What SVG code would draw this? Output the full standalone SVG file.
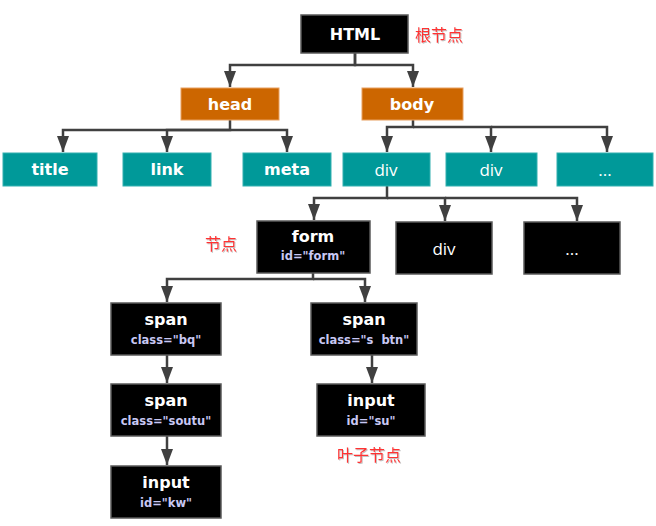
<svg xmlns="http://www.w3.org/2000/svg" width="656" height="526" viewBox="0 0 656 526">
<style>
.blk{fill:#000;stroke:#5a5a5a;stroke-width:1.5}
.org{fill:#cc6600;stroke:#e8a060;stroke-width:1}
.tea{fill:#009999;stroke:#33b0b0;stroke-width:1}
.t{font-family:"DejaVu Sans","Liberation Sans",sans-serif;font-weight:bold;font-size:16px;fill:#fff;text-anchor:middle}
.s{font-family:"Open Sans","DejaVu Sans",sans-serif;font-size:17px;fill:#fff;text-anchor:middle}
.sub{font-family:"DejaVu Sans","Liberation Sans",sans-serif;font-weight:bold;font-size:11.5px;fill:#c8c8f4;text-anchor:middle}
.cn{font-family:"Noto Sans CJK SC",sans-serif;font-size:16px;fill:#ff3030;filter:url(#sh)}
.c{fill:none;stroke:#404040;stroke-width:2.5;marker-end:url(#ah)}
</style>
<defs>
<marker id="ah" markerUnits="userSpaceOnUse" viewBox="0 0 16 12" markerWidth="16" markerHeight="12" refX="16" refY="6" orient="auto">
<path d="M0,0 L16,6 L0,12 z" fill="#404040"/>
</marker>
<filter id="sh" x="-10%" y="-10%" width="130%" height="140%">
<feDropShadow dx="1" dy="1" stdDeviation="0.6" flood-color="#999" flood-opacity="0.6"/>
</filter>
</defs>
<rect width="656" height="526" fill="#fff"/>
<g id="connectors">
<path class="c" d="M355,53 V65 H230 V87"/>
<path class="c" d="M355,53 V65 H413 V87"/>
<path class="c" d="M230,120 V130 H63 V152"/>
<path class="c" d="M230,130 H167 V152"/>
<path class="c" d="M230,130 H287 V152"/>
<path class="c" d="M413,120 V127 H387 V152"/>
<path class="c" d="M413,127 H491 V152"/>
<path class="c" d="M491,127 H607 V152"/>
<path class="c" d="M387,186 V198 H314 V220"/>
<path class="c" d="M387,198 H445 V221"/>
<path class="c" d="M445,198 H577 V221"/>
<path class="c" d="M313,273 V279 H167 V302"/>
<path class="c" d="M313,279 H365 V302"/>
<path class="c" d="M167,355 V383"/>
<path class="c" d="M167,436 V465"/>
<path class="c" d="M372,355 V383"/>
</g>
<g id="html"><rect class="blk" x="301" y="15" width="107" height="38"/><text class="t" x="355" y="40">HTML</text></g>
<text class="cn" x="415" y="41">根节点</text>
<g id="head"><rect class="org" x="181" y="88" width="98" height="32"/><text class="t" x="230" y="110">head</text></g>
<g id="body"><rect class="org" x="362" y="88" width="101" height="32"/><text class="t" x="412" y="110">body</text></g>
<g id="title"><rect class="tea" x="3" y="153" width="94" height="33"/><text class="t" x="50" y="175">title</text></g>
<g id="link"><rect class="tea" x="123" y="153" width="88" height="33"/><text class="t" x="167" y="175">link</text></g>
<g id="meta"><rect class="tea" x="243" y="153" width="88" height="33"/><text class="t" x="287" y="175">meta</text></g>
<g id="div1"><rect class="tea" x="343" y="153" width="87" height="33"/><text class="s" x="386" y="176">div</text></g>
<g id="div2"><rect class="tea" x="446" y="153" width="91" height="33"/><text class="s" x="491" y="176">div</text></g>
<g id="more1"><rect class="tea" x="557" y="153" width="96" height="33"/><text class="s" x="605" y="176">...</text></g>
<g id="form"><rect class="blk" x="257" y="221" width="113" height="52"/><text class="t" x="313" y="242">form</text><text class="sub" x="313" y="260">id="form"</text></g>
<text class="cn" x="205" y="250">节点</text>
<g id="div3"><rect class="blk" x="396" y="222" width="96" height="52"/><text class="s" x="444" y="255">div</text></g>
<g id="more2"><rect class="blk" x="524" y="222" width="96" height="52"/><text class="s" x="572" y="255">...</text></g>
<g id="span1"><rect class="blk" x="111" y="303" width="110" height="52"/><text class="t" x="166" y="325">span</text><text class="sub" x="166" y="344">class="bq"</text></g>
<g id="span2"><rect class="blk" x="311" y="303" width="106" height="52"/><text class="t" x="364" y="325">span</text><text class="sub" x="364" y="344" xml:space="preserve">class="s  btn"</text></g>
<g id="span3"><rect class="blk" x="111" y="384" width="110" height="52"/><text class="t" x="166" y="406">span</text><text class="sub" x="166" y="425">class="soutu"</text></g>
<g id="inputsu"><rect class="blk" x="317" y="384" width="108" height="52"/><text class="t" x="371" y="406">input</text><text class="sub" x="371" y="425">id="su"</text></g>
<text class="cn" x="337" y="461">叶子节点</text>
<g id="inputkw"><rect class="blk" x="111" y="466" width="110" height="52"/><text class="t" x="166" y="488">input</text><text class="sub" x="166" y="507">id="kw"</text></g>
</svg>
